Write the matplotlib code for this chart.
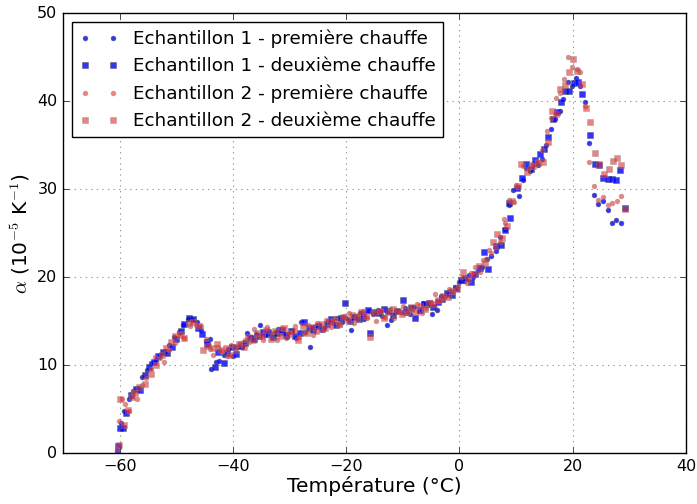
import matplotlib
matplotlib.use("Agg")
import matplotlib.pyplot as plt

plt.style.use("classic")

# Echantillon 1 - première chauffe
x1a = [-60.5, -59.8, -59.2, -58.4, -57.6, -56.8, -56.0, -55.2, -54.4, -53.6, -52.8, -52.0, -51.2, -50.4, -49.6, -48.8, -48.0, -47.2, -46.4, -45.6, -44.8, -44.0, -43.8, -43.0, -42.4, -41.6, -40.8, -40.0, -39.2, -38.4, -37.6, -36.8, -36.0, -35.2, -34.4, -33.6, -32.8, -32.0, -31.2, -30.4, -29.6, -28.8, -28.0, -27.2, -26.4, -25.6, -24.8, -24.0, -23.2, -22.4, -21.6, -20.8, -20.0, -19.2, -18.4, -17.6, -16.8, -16.0, -15.2, -14.4, -13.6, -12.8, -12.0, -11.2, -10.4, -9.6, -8.8, -8.0, -7.2, -6.4, -5.6, -4.8, -4.0, -3.2, -2.4, -1.6, -0.8, 0.0, 0.8, 1.6, 2.4, 3.2, 4.0, 4.8, 5.6, 6.4, 7.2, 8.0, 8.8, 9.5, 10.5, 11.2, 11.7, 12.4, 13.2, 13.8, 14.6, 15.3, 16.1, 16.9, 17.7, 18.3, 19.1, 19.9, 20.6, 21.3, 22.1, 22.9, 23.7, 24.5, 25.4, 26.2, 27.0, 27.7, 28.5]
y1a = [0.2, 3.4, 4.8, 6.2, 7.0, 7.4, 8.6, 9.4, 10.2, 10.6, 11.1, 11.6, 12.3, 13.2, 13.8, 14.6, 15.2, 15.1, 14.9, 14.0, 12.7, 13.0, 9.5, 10.3, 10.5, 11.2, 11.8, 11.0, 12.1, 12.0, 13.7, 13.2, 13.5, 14.5, 13.4, 13.9, 13.5, 14.1, 13.6, 13.2, 14.0, 13.1, 14.9, 13.8, 12.1, 14.3, 14.6, 14.2, 15.0, 14.8, 15.3, 14.9, 15.4, 14.0, 15.6, 15.9, 15.2, 16.1, 15.8, 16.3, 15.6, 14.6, 15.1, 16.2, 16.0, 16.5, 15.8, 16.6, 16.1, 17.0, 16.8, 15.8, 16.3, 17.9, 18.0, 18.4, 18.9, 19.4, 19.5, 20.2, 20.0, 20.8, 21.2, 22.0, 22.4, 23.0, 24.5, 25.5, 28.2, 29.9, 29.2, 31.0, 32.4, 32.1, 32.9, 32.7, 33.4, 35.0, 36.8, 38.0, 38.9, 40.2, 42.2, 41.7, 42.6, 41.7, 39.9, 35.2, 29.3, 28.3, 28.6, 27.6, 26.2, 26.5, 26.2]

# Echantillon 1 - deuxième chauffe
x1b = [-60.3, -60.0, -59.4, -58.8, -58.0, -57.2, -56.4, -55.6, -54.8, -54.0, -53.2, -52.4, -51.6, -50.8, -50.0, -49.2, -48.6, -47.8, -47.0, -46.2, -45.4, -44.6, -43.1, -42.6, -41.5, -41.0, -40.2, -39.4, -38.6, -37.8, -37.0, -36.2, -35.4, -34.6, -33.8, -33.0, -32.2, -31.4, -30.6, -29.8, -29.0, -28.2, -27.4, -26.6, -25.8, -25.0, -24.2, -23.4, -22.6, -21.8, -21.0, -20.2, -19.4, -18.6, -17.8, -17.0, -16.2, -15.8, -15.0, -14.2, -13.4, -12.6, -11.8, -11.0, -10.0, -9.4, -8.6, -7.8, -7.0, -6.2, -5.4, -4.6, -3.8, -3.0, -2.2, -1.4, -0.6, 0.2, 1.0, 2.1, 2.8, 3.6, 4.3, 5.0, 6.5, 7.4, 8.1, 8.7, 8.9, 10.2, 11.1, 11.8, 12.6, 13.4, 14.2, 15.0, 15.7, 16.5, 17.2, 18.0, 18.7, 19.4, 20.2, 20.9, 21.6, 23.0, 23.9, 24.7, 25.4, 26.2, 27.0, 27.7, 28.4, 29.3]
y1b = [0.8, 2.9, 2.8, 4.5, 6.6, 7.3, 7.2, 8.9, 9.8, 10.3, 11.0, 11.5, 11.4, 12.1, 13.0, 13.9, 14.7, 15.3, 15.2, 14.2, 13.5, 12.4, 9.8, 11.5, 10.2, 11.4, 12.0, 11.3, 12.2, 12.5, 13.1, 13.0, 13.3, 13.8, 13.5, 13.2, 13.7, 14.0, 13.4, 13.9, 13.3, 13.6, 14.9, 14.2, 14.0, 14.4, 14.1, 14.7, 15.2, 14.6, 15.3, 17.1, 15.0, 15.5, 15.2, 15.8, 16.3, 13.7, 16.0, 15.9, 16.4, 16.1, 15.7, 16.2, 17.4, 16.0, 16.5, 15.4, 16.3, 16.9, 17.0, 16.6, 17.2, 17.5, 18.2, 18.0, 18.8, 19.7, 19.9, 19.4, 20.4, 21.0, 22.9, 20.9, 23.5, 23.6, 25.3, 28.4, 26.7, 30.1, 31.3, 32.8, 32.3, 33.3, 34.0, 34.6, 35.9, 38.0, 38.8, 39.9, 41.1, 41.1, 42.1, 42.2, 40.8, 36.1, 32.9, 32.7, 31.3, 31.2, 31.2, 31.0, 32.2, 27.8]

# Echantillon 2 - première chauffe
x2a = [-60.4, -60.1, -59.6, -59.0, -58.4, -57.7, -56.9, -56.1, -55.3, -54.5, -53.7, -52.9, -52.1, -51.2, -50.2, -49.4, -48.6, -47.6, -46.6, -45.6, -44.8, -44.0, -43.5, -42.7, -41.9, -41.1, -40.3, -39.5, -38.7, -37.9, -37.1, -36.3, -35.5, -34.7, -33.9, -33.1, -32.3, -31.5, -30.7, -29.9, -29.1, -28.3, -27.5, -26.7, -25.9, -25.1, -24.3, -23.5, -22.7, -21.9, -21.1, -20.3, -19.5, -18.7, -17.9, -17.1, -16.3, -15.5, -14.7, -13.9, -13.1, -12.3, -11.5, -10.7, -9.9, -9.1, -8.3, -7.5, -6.7, -5.9, -5.1, -4.3, -3.5, -2.7, -1.9, -1.1, -0.3, 0.5, 1.3, 2.0, 2.8, 3.7, 4.2, 4.7, 5.2, 5.6, 6.3, 7.1, 7.9, 8.1, 8.8, 9.7, 10.0, 11.3, 12.2, 12.7, 13.7, 14.5, 15.4, 16.2, 17.1, 17.8, 18.4, 19.2, 19.9, 20.7, 21.3, 22.2, 22.9, 23.7, 24.5, 25.4, 26.2, 27.0, 27.8, 28.5]
y2a = [0.5, 3.7, 6.1, 5.6, 4.8, 6.9, 6.1, 7.7, 8.5, 9.6, 10.9, 10.8, 10.4, 11.7, 12.5, 13.6, 13.1, 14.4, 14.5, 14.4, 13.0, 11.8, 11.1, 12.0, 11.6, 11.0, 12.3, 11.6, 12.5, 12.9, 12.6, 14.1, 13.2, 12.9, 14.3, 13.6, 12.8, 14.2, 13.1, 13.8, 14.4, 13.2, 13.6, 14.6, 13.4, 14.8, 14.0, 15.1, 14.3, 15.4, 14.5, 15.6, 15.9, 14.8, 15.7, 16.2, 15.4, 16.0, 15.0, 16.1, 15.5, 16.4, 15.3, 16.0, 16.7, 15.9, 16.3, 16.9, 15.9, 16.5, 17.2, 18.1, 17.3, 17.6, 18.6, 18.3, 19.0, 20.0, 19.3, 20.5, 21.2, 20.6, 21.9, 22.1, 23.1, 22.7, 23.4, 24.0, 26.6, 26.1, 28.8, 28.5, 30.5, 32.6, 32.4, 32.8, 33.2, 34.4, 36.6, 38.1, 40.3, 40.9, 42.5, 45.0, 43.9, 43.6, 43.3, 39.5, 33.1, 30.4, 28.8, 29.1, 28.2, 28.4, 28.7, 29.2]

# Echantillon 2 - deuxième chauffe
x2b = [-60.2, -59.9, -59.3, -58.6, -57.9, -57.3, -56.5, -55.6, -54.4, -53.5, -52.6, -51.8, -51.0, -50.2, -49.3, -48.6, -47.8, -47.0, -46.0, -45.2, -44.4, -43.6, -42.8, -42.1, -41.3, -40.5, -39.7, -38.9, -38.1, -37.3, -36.5, -35.7, -34.9, -34.1, -33.3, -32.5, -31.7, -30.9, -30.1, -29.3, -28.5, -27.7, -26.9, -26.1, -25.3, -24.5, -23.7, -22.9, -22.1, -21.3, -20.5, -19.7, -18.9, -18.1, -17.3, -16.5, -15.8, -14.9, -14.1, -13.3, -12.5, -11.7, -10.9, -10.1, -9.3, -8.5, -7.7, -6.9, -6.1, -5.3, -4.5, -3.7, -2.9, -2.1, -1.3, -0.5, 0.6, 1.5, 2.6, 3.5, 4.5, 5.9, 6.6, 7.6, 8.4, 9.2, 10.3, 10.9, 11.9, 12.9, 13.9, 14.7, 15.6, 16.3, 17.0, 17.8, 18.6, 19.3, 20.1, 20.8, 21.6, 22.3, 23.1, 23.9, 24.7, 25.5, 26.4, 27.1, 27.9, 28.6, 29.3]
y2b = [0.9, 6.1, 3.2, 4.9, 6.4, 6.8, 7.5, 7.9, 9.0, 10.0, 11.2, 11.9, 12.6, 13.3, 13.4, 13.1, 14.8, 14.9, 14.4, 11.7, 12.2, 11.9, 12.4, 11.7, 11.9, 11.2, 12.0, 12.4, 12.1, 13.2, 12.8, 13.6, 13.3, 14.0, 13.0, 13.9, 13.3, 14.2, 13.5, 13.9, 12.9, 14.4, 13.7, 14.3, 13.9, 14.7, 14.2, 14.9, 15.0, 14.7, 15.5, 15.1, 15.7, 15.3, 16.0, 15.6, 13.2, 15.9, 16.2, 15.3, 16.0, 16.4, 16.1, 15.8, 16.2, 16.6, 16.0, 16.7, 16.4, 17.1, 16.9, 17.4, 17.9, 17.7, 18.4, 18.7, 20.6, 19.8, 20.4, 21.3, 21.6, 24.0, 24.9, 24.4, 25.8, 28.6, 30.3, 32.9, 32.0, 32.6, 33.0, 33.1, 35.3, 38.9, 38.5, 41.4, 41.8, 43.3, 44.8, 43.4, 41.9, 39.2, 37.6, 34.1, 32.9, 31.7, 32.3, 33.2, 33.5, 32.7, 27.7]

labels = ["Echantillon 1 - première chauffe",
          "Echantillon 1 - deuxième chauffe",
          "Echantillon 2 - première chauffe",
          "Echantillon 2 - deuxième chauffe"]

fig = plt.figure(figsize=(6.97, 5.04), dpi=100, facecolor="white")
ax = fig.add_axes([0.0904, 0.101, 0.8938, 0.873])
ax.set_facecolor("white")

blue = "#0000ff"
red = "#e03030"
ax.plot(x1a, y1a, linestyle="none", marker="o", markersize=3.5, color=blue,
        alpha=0.8, mec="#555555", mew=0.4, label=labels[0])
ax.plot(x1b, y1b, linestyle="none", marker="s", markersize=4, color=blue,
        alpha=0.8, mec="#555555", mew=0.4, label=labels[1])
ax.plot(x2a, y2a, linestyle="none", marker="o", markersize=3.5, color=red,
        alpha=0.6, mec="#888888", mew=0.4, label=labels[2])
ax.plot(x2b, y2b, linestyle="none", marker="s", markersize=4, color=red,
        alpha=0.6, mec="#888888", mew=0.4, label=labels[3])

ax.set_xlim(-70, 40)
ax.set_ylim(0, 50)
ax.set_xticks([-60, -40, -20, 0, 20, 40])
ax.set_yticks([0, 10, 20, 30, 40, 50])
ax.tick_params(labelsize=11.5)
ax.grid(True, linestyle=":", color="#999999", linewidth=0.8)
ax.set_axisbelow(True)

ax.set_xlabel("Température (°C)", fontsize=14.5, labelpad=2)
ax.set_ylabel(r"$\alpha$ (10$^{-5}$ K$^{-1}$)", fontsize=14.5, labelpad=4)

leg = ax.legend(loc="upper left", numpoints=2, fontsize=13.2, frameon=True,
                fancybox=False, handlelength=2.1, borderpad=0.4,
                labelspacing=0.5, handletextpad=0.8, borderaxespad=0.5)
leg.get_frame().set_edgecolor("black")

fig.savefig("out.png", dpi=100, facecolor="white")
